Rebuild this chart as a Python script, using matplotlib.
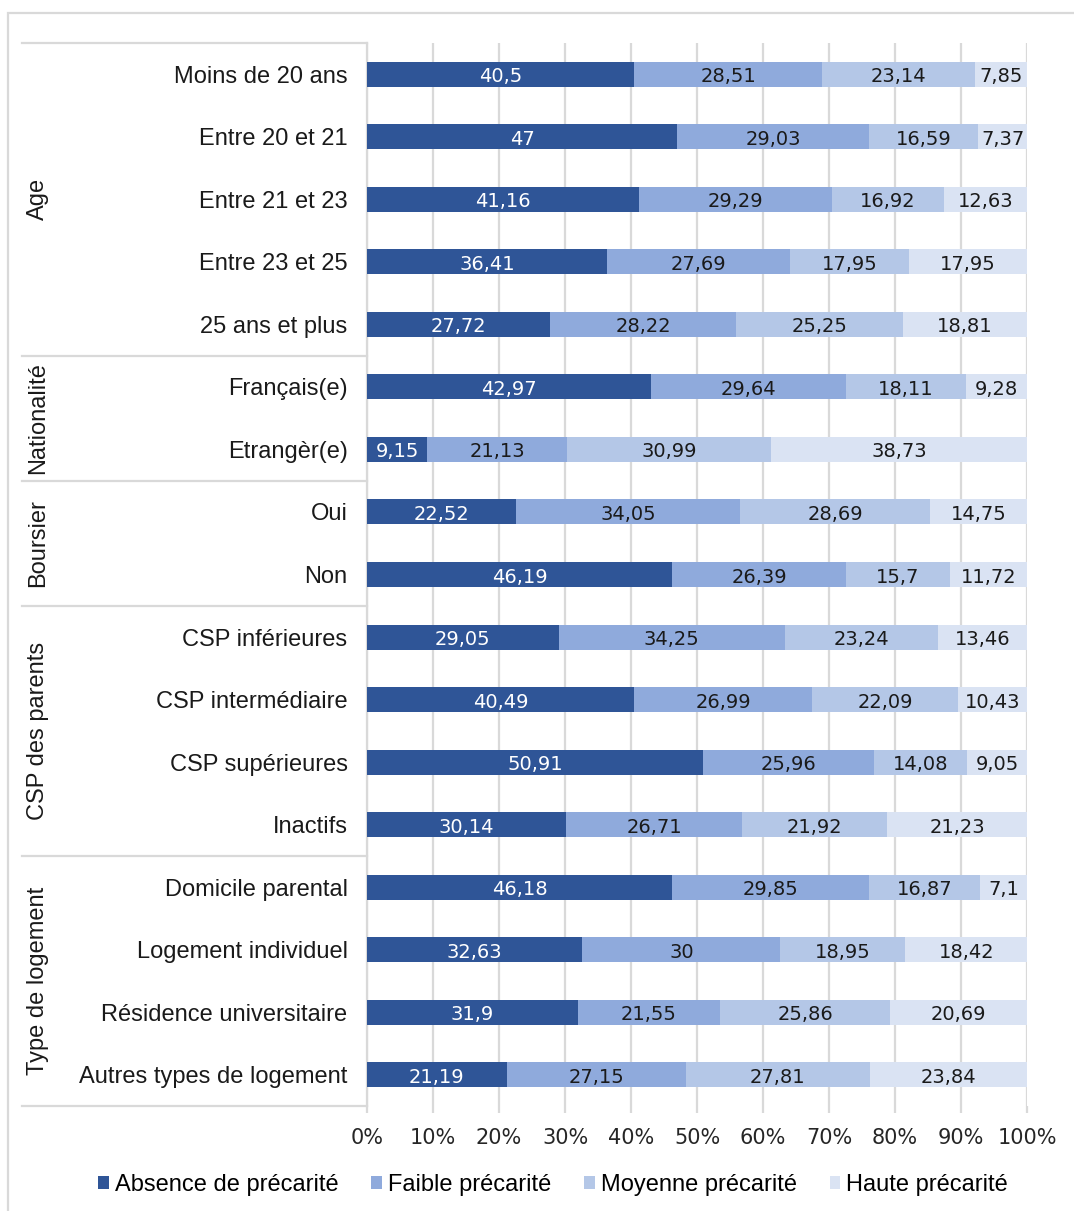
import matplotlib.pyplot as plt
from matplotlib.patches import Rectangle, Patch
from matplotlib.lines import Line2D
import matplotlib.transforms as mtransforms

categories = ['Moins de 20 ans', 'Entre 20 et 21', 'Entre 21 et 23', 'Entre 23 et 25',
              '25 ans et plus', 'Français(e)', 'Etrangèr(e)', 'Oui', 'Non',
              'CSP inférieures', 'CSP intermédiaire', 'CSP supérieures', 'Inactifs',
              'Domicile parental', 'Logement individuel', 'Résidence universitaire',
              'Autres types de logement']

groups = ['Age', 'Nationalité', 'Boursier', 'CSP des parents', 'Type de logement']
group_sizes = [5, 2, 2, 4, 4]

series_names = ['Absence de précarité', 'Faible précarité', 'Moyenne précarité', 'Haute précarité']

absence = [40.5, 47, 41.16, 36.41, 27.72, 42.97, 9.15, 22.52, 46.19,
           29.05, 40.49, 50.91, 30.14, 46.18, 32.63, 31.9, 21.19]
faible = [28.51, 29.03, 29.29, 27.69, 28.22, 29.64, 21.13, 34.05, 26.39,
          34.25, 26.99, 25.96, 26.71, 29.85, 30, 21.55, 27.15]
moyenne = [23.14, 16.59, 16.92, 17.95, 25.25, 18.11, 30.99, 28.69, 15.7,
           23.24, 22.09, 14.08, 21.92, 16.87, 18.95, 25.86, 27.81]
haute = [7.85, 7.37, 12.63, 17.95, 18.81, 9.28, 38.73, 14.75, 11.72,
         13.46, 10.43, 9.05, 21.23, 7.1, 18.42, 20.69, 23.84]

xticks = [0, 10, 20, 30, 40, 50, 60, 70, 80, 90, 100]

colors = ['#2F5597', '#8FAADC', '#B4C7E7', '#DAE3F3']
txt_colors = ['white', '#1a1a1a', '#1a1a1a', '#1a1a1a']
grey = '#D9D9D9'
arial = 'Liberation Sans'

W, H = 1074, 1211
fig = plt.figure(figsize=(W / 100, H / 100), dpi=100)
ax = fig.add_axes([367 / W, 1 - 1106 / H, 660 / W, 1063 / H])

# outer frame
fig.patches.append(Rectangle((8 / W, -0.1), 1.2, 1 - 13 / H + 0.1, transform=fig.transFigure,
                             fill=False, edgecolor=grey, linewidth=1.6))

ypos = list(range(len(categories)))
left = [0] * len(categories)
for vals, col, tc, name in zip([absence, faible, moyenne, haute], colors, txt_colors, series_names):
    bars = ax.barh(ypos, vals, left=left, height=0.4, color=col, label=name, zorder=3)
    for b, v in zip(bars, vals):
        lab = ('%g' % v).replace('.', ',')
        ax.text(b.get_x() + b.get_width() / 2, b.get_y() + b.get_height() / 2 + 0.04, lab,
                ha='center', va='center', color=tc, fontsize=14,
                family='DejaVu Sans', zorder=4)
    left = [l + v for l, v in zip(left, vals)]

ax.set_xlim(0, 100)
ax.set_ylim(len(categories) - 0.5, -0.5)
ax.set_xticks(xticks)
ax.set_xticklabels(['%d%%' % t for t in xticks], fontsize=15, family='DejaVu Sans', color='#262626')
ax.grid(axis='x', color=grey, linewidth=1.6, zorder=0)
ax.tick_params(axis='x', length=5, color=grey, width=1.6, pad=11)
ax.set_yticks(ypos)
ax.set_yticklabels(categories, fontsize=17, family=arial, color='#1a1a1a')
ax.tick_params(axis='y', length=0, pad=14)
for s in ['top', 'right', 'bottom']:
    ax.spines[s].set_visible(False)
ax.spines['left'].set_color(grey)
ax.spines['left'].set_linewidth(1.6)

# group labels and separators
trans = mtransforms.blended_transform_factory(ax.transAxes, ax.transData)
x0 = (22 - 367) / 660
xg = (38 - 367) / 660
start = 0
ax.add_line(Line2D([x0, 0], [-0.5, -0.5], transform=trans, color=grey, lw=1.6, clip_on=False))
for g, n in zip(groups, group_sizes):
    end = start + n
    ax.add_line(Line2D([x0, 0], [end - 0.5, end - 0.5], transform=trans, color=grey,
                       lw=1.6, clip_on=False))
    ax.text(xg, (start + end - 1) / 2, g, rotation=90, ha='center', va='center',
            transform=trans, fontsize=17, family=arial, color='#1a1a1a')
    start = end

handles = [Patch(facecolor=c, edgecolor='none') for c in colors]
fig.legend(handles, series_names, loc='center', bbox_to_anchor=(553 / W, 1 - 1185 / H),
           ncol=4, frameon=False, prop={'family': arial, 'size': 17},
           handlelength=0.45, handleheight=0.45, handletextpad=0.25, columnspacing=1.4)

fig.savefig('out.png', dpi=100)
